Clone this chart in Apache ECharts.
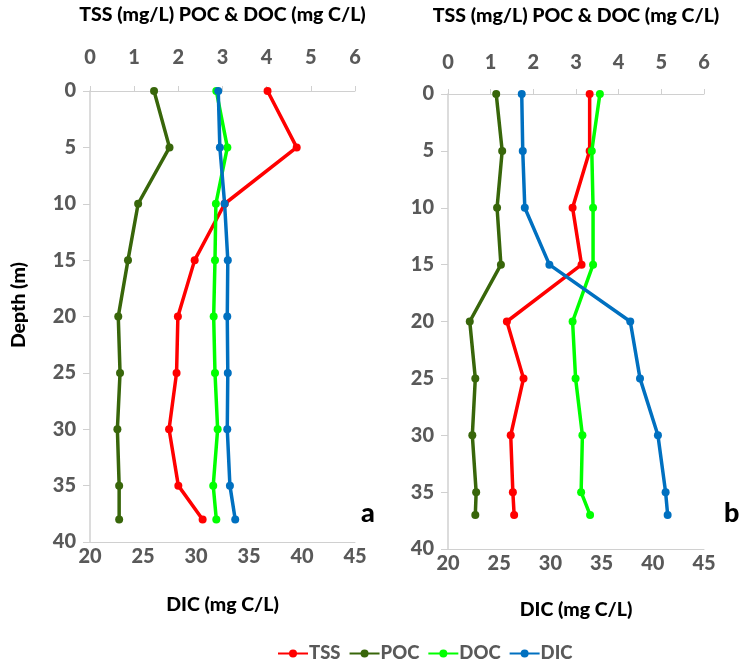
<!DOCTYPE html>
<html>
<head>
<meta charset="utf-8">
<script src="https://cdn.jsdelivr.net/npm/echarts@6/dist/echarts.min.js"></script>
<style>
  html, body { margin: 0; padding: 0; background: #fff; }
  #chart { width: 742px; height: 659px; }
</style>
</head>
<body>
<div id="chart"></div>
<script>
// Station a: depth profile (m)
const depthA = [0, 5, 10, 15, 20, 25, 30, 35, 38];
const tssA = [4.02, 4.68, 3.05, 2.37, 1.99, 1.96, 1.79, 2.00, 2.55];
const pocA = [1.45, 1.80, 1.09, 0.86, 0.64, 0.68, 0.62, 0.66, 0.66];
const docA = [2.86, 3.11, 2.85, 2.83, 2.80, 2.83, 2.89, 2.79, 2.86];
const dicA = [32.1, 32.25, 32.7, 33.0, 32.95, 33.0, 32.95, 33.2, 33.7];

// Station b: depth profile (m)
const depthB = [0, 5, 10, 15, 20, 25, 30, 35, 37];
const tssB = [3.32, 3.32, 2.92, 3.13, 1.38, 1.77, 1.47, 1.52, 1.55];
const pocB = [1.13, 1.27, 1.15, 1.24, 0.51, 0.64, 0.57, 0.66, 0.64];
const docB = [3.56, 3.37, 3.40, 3.40, 2.92, 2.99, 3.15, 3.12, 3.33];
const dicB = [27.2, 27.3, 27.5, 29.9, 37.8, 38.75, 40.5, 41.25, 41.45];

const seriesNames = ['TSS', 'POC', 'DOC', 'DIC'];
const colors = { TSS: '#ff0000', POC: '#38660a', DOC: '#00ff00', DIC: '#0070c0' };

const topTitle = 'TSS (mg/L) POC & DOC (mg C/L)';
const bottomTitle = 'DIC (mg C/L)';
const depthTitle = 'Depth (m)';

const FONT = 'Lato';
const tickText = { fontFamily: FONT, fontWeight: 900, fontSize: 20, color: '#595959' };
const titleText = { fontFamily: FONT, fontWeight: 900, fontSize: 19.5, color: '#000' };
const axisGray = '#d0d0d0';

function pairs(xs, ds) { return xs.map((v, i) => [v, ds[i]]); }

function topAxis(grid, gap, margin) {
  return {
    type: 'value', gridIndex: grid, position: 'top', min: 0, max: 6, interval: 1,
    name: topTitle, nameLocation: 'middle', nameGap: gap, nameTextStyle: titleText,
    axisLine: { show: true, lineStyle: { color: axisGray, width: 1 } },
    axisTick: { show: true, inside: false, length: 5, lineStyle: { color: axisGray } },
    axisLabel: Object.assign({ margin: margin }, tickText),
    splitLine: { show: false }
  };
}
function bottomAxis(grid, gap, margin) {
  return {
    type: 'value', gridIndex: grid, position: 'bottom', min: 20, max: 45, interval: 5,
    name: bottomTitle, nameLocation: 'middle', nameGap: gap, nameTextStyle: titleText,
    axisLine: { show: true, lineStyle: { color: axisGray, width: 1 } },
    axisTick: { show: false },
    axisLabel: Object.assign({ margin: margin }, tickText),
    splitLine: { show: false }
  };
}
function depthAxis(grid) {
  return {
    type: 'value', gridIndex: grid, inverse: true, min: 0, max: 40, interval: 5,
    axisLine: { show: true, lineStyle: { color: axisGray, width: 1.5 } },
    axisTick: { show: true, length: 7, lineStyle: { color: axisGray } },
    axisLabel: Object.assign({ margin: 14 }, tickText),
    splitLine: { show: false }
  };
}

function profile(name, xIdx, yIdx, data) {
  return {
    name: name, type: 'line', xAxisIndex: xIdx, yAxisIndex: yIdx,
    data: data, symbol: 'circle', symbolSize: 8, showSymbol: true,
    lineStyle: { width: 3.5, color: colors[name] },
    itemStyle: { color: colors[name] },
    animation: false
  };
}

const option = {
  backgroundColor: '#fff',
  grid: [
    { left: 90, top: 91, width: 265, height: 451 },
    { left: 448, top: 94, width: 256, height: 455 }
  ],
  xAxis: [
    topAxis(0, 66, 23), bottomAxis(0, 53, 5),
    topAxis(1, 68, 21), bottomAxis(1, 51, 5)
  ],
  yAxis: [depthAxis(0), depthAxis(1)],
  legend: {
    data: seriesNames, top: 639, left: 272, itemWidth: 30, itemHeight: 10,
    itemGap: 8, textStyle: { fontFamily: FONT, fontWeight: 900, fontSize: 18.5, color: '#595959', padding: [0, 0, 0, -4] }
  },
  series: [
    profile('TSS', 0, 0, pairs(tssA, depthA)),
    profile('POC', 0, 0, pairs(pocA, depthA)),
    profile('DOC', 0, 0, pairs(docA, depthA)),
    profile('DIC', 1, 0, pairs(dicA, depthA)),
    profile('TSS', 2, 1, pairs(tssB, depthB)),
    profile('POC', 2, 1, pairs(pocB, depthB)),
    profile('DOC', 2, 1, pairs(docB, depthB)),
    profile('DIC', 3, 1, pairs(dicB, depthB))
  ],
  graphic: [
    { type: 'text', left: 9, top: 262, rotation: Math.PI / 2,
      style: { text: depthTitle, font: '900 19.5px Lato', fill: '#000' } },
    { type: 'text', left: 361, top: 500, style: { text: 'a', font: '900 27px Lato', fill: '#000' } },
    { type: 'text', left: 724, top: 500, style: { text: 'b', font: '900 27px Lato', fill: '#000' } }
  ]
};

const chart = echarts.init(document.getElementById('chart'), null, { renderer: 'canvas' });
chart.setOption(option);
</script>
</body>
</html>
